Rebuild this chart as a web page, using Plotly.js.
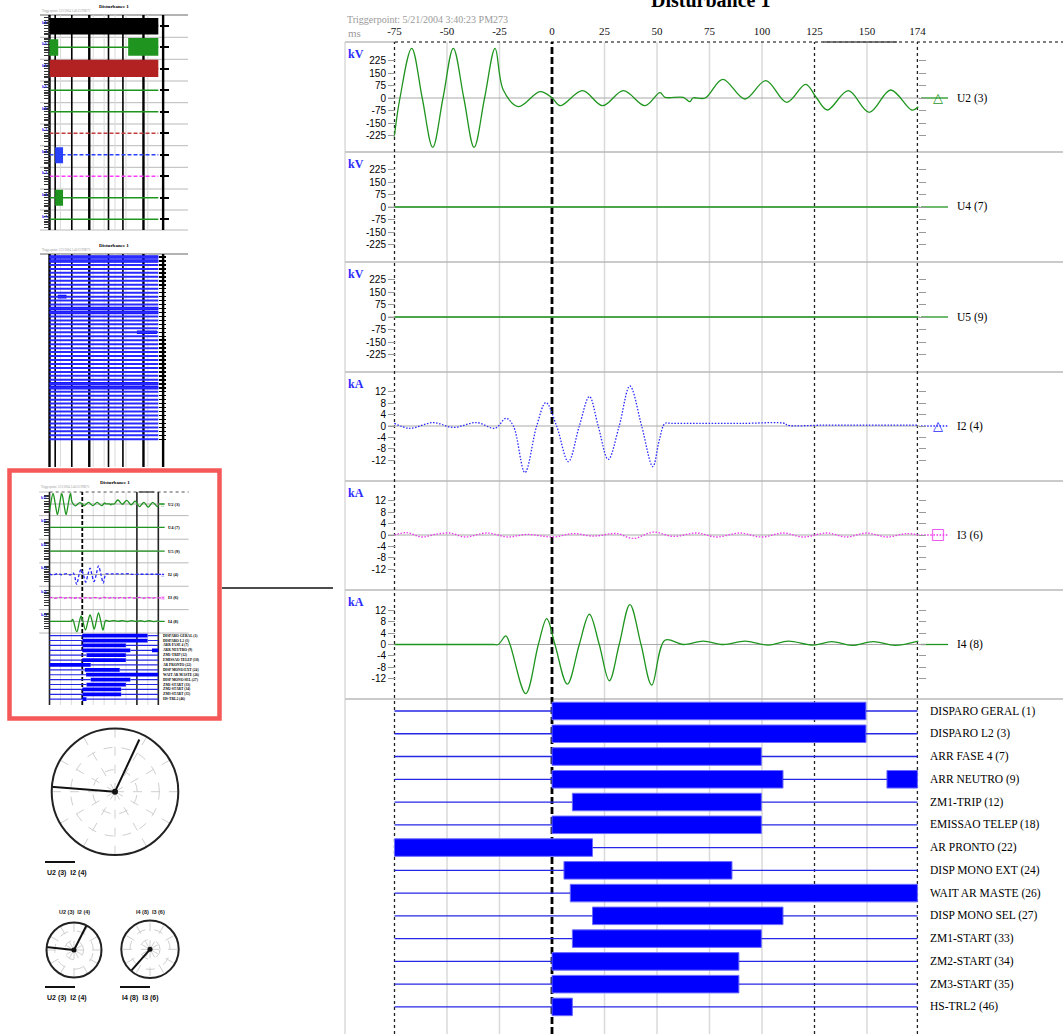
<!DOCTYPE html>
<html><head><meta charset="utf-8">
<script src="https://cdn.plot.ly/plotly-3.0.1.min.js"></script>
<style>html,body{margin:0;padding:0;background:#fff;overflow:hidden}#chart{width:1063px;height:1034px}</style>
</head><body><div id="chart"></div>
<script>
// ================= DATA =================
const tickTimes = [-75, -50, -25, 0, 25, 50, 75, 100, 125, 150, 174];
const gridTimes = [-50, -25, 25, 50, 75, 100, 150];
const cursorTimes = [-75, 125, 174];
const triggerTime = 0;
const recStart = -75, recEnd = 174;
const voltTicks = [-225, -150, -75, 0, 75, 150, 225];
const currTicks = [-12, -8, -4, 0, 4, 8, 12];

// U2 (kV)
const u2T = [-75.1,-72.4,-66.8,-61.8,-56.8,-51.9,-47.0,-42.0,-37.1,-32.1,-27.1,-23.2,-16.0,-5.7,0.1,3.8,14.6,24.1,34.0,44.3,51.4,53.8,62.5,65.7,67.1,72.9,81.3,91.9,101.8,111.8,120.8,126.0,131.1,141.1,151.1,161.3,171.3,174.4];
const u2V = [-232,0,298,0,-296,0,298,0,-296,0,298,48,-52,38,0,-46,44,-46,44,-46,32,4,4,-22,0,0,112,-6,104,-26,82,0,-72,44,-86,48,-72,-52];
// U4, U5 (kV)
const u4T = [-75.1, 174.4], u4V = [0, 0];
const u5T = [-75.1, 174.4], u5V = [0, 0];
// I2 (kA)
const i2T = [-75.1,-67.6,-56.5,-47.0,-35.9,-27.1,-21.9,-18.4,-12.9,-7.3,-2.9,2.2,7.8,13.0,17.8,22.0,26.8,32.0,37.1,42.7,48.0,51.1,53.8,57.0,70.0,90.0,111.0,112.0,130.0,150.0,174.3];
const i2V = [0.9,-0.8,1.2,-0.5,1.2,-0.8,2.7,0,-16.3,0,8.2,0,-12.5,0,10.3,0,-11.7,0,14.0,0,-14.2,-4.9,0.9,0.9,0.9,0.9,0.9,0.3,0.3,0.3,0.3];
// I3 (kA)
const i3T = [-75.1,-69.2,-62.0,-55.7,-48.6,-41.4,-31.1,-20.8,-12.0,0.6,10.2,19.7,30.8,38.7,48.3,57.8,68.9,78.4,89.5,99.8,110.2,119.7,130.8,140.3,149.8,159.4,168.9,174.4];
const i3V = [0,0.8,-0.7,0.2,0.7,-0.7,0.7,-0.7,0.2,-0.7,0.5,-0.4,0.5,-1.2,1.0,-0.5,0.7,-0.7,0.7,-0.7,0.7,-0.7,0.7,-0.7,0.7,-0.7,0.5,0];
// I4 (kA)
const i4T = [-75.1,-50.0,-28.0,-25.6,-22.0,-20.0,-12.5,-6.5,-2.5,1.4,7.3,13.0,17.8,22.5,27.3,32.0,37.1,42.4,47.5,53.8,62.5,72.0,81.6,91.9,103.0,112.5,124.4,133.2,142.7,153.0,163.3,174.4];
const i4V = [0,0,0,0,3.0,0,-17.2,0,9.1,0,-13.9,0,10.6,0,-12.7,0,14.0,0,-14.2,1.5,0,1.2,0,1.2,-0.2,1.2,-0.2,1.0,-0.3,1.0,-0.3,1.2];

const analogNames = ['U2 (3)', 'U4 (7)', 'U5 (9)', 'I2 (4)', 'I3 (6)', 'I4 (8)'];
const analogUnits = ['kV', 'kV', 'kV', 'kA', 'kA', 'kA'];

// digital channels
const digLabels = ['DISPARO GERAL (1)','DISPARO L2 (3)','ARR FASE 4 (7)','ARR NEUTRO (9)','ZM1-TRIP (12)','EMISSAO TELEP (18)','AR PRONTO (22)','DISP MONO EXT (24)','WAIT AR MASTE (26)','DISP MONO SEL (27)','ZM1-START (33)','ZM2-START (34)','ZM3-START (35)','HS-TRL2 (46)'];
const digOnRow  = [0, 1, 2, 3, 3, 4, 5, 6, 7, 8, 9, 10, 11, 12, 13];
const digOnFrom = [0, 0, 0, 0, 159.5, 9.7, 0, -75, 5.7, 8.7, 19.3, 9.7, 0, 0, 0];
const digOnTo   = [149.5, 149.5, 99.7, 110, 174, 99.7, 99.7, 19.3, 85.7, 174, 110, 99.7, 89, 89, 9.7];

// phasor diagrams (angle deg, magnitude relative)
const phasorAAng = [65, 175.5], phasorAMag = [0.91, 1.03];
const phasorBAng = [63, 174],   phasorBMag = [1.0, 1.05];
const phasorCAng = [228.7],     phasorCMag = [1.15];
const phasorLegend = ['U2 (3)  I2 (4)', 'U2 (3)  I2 (4)', 'I4 (8)  I3 (6)'];

// overview thumbnail A (analog page): envelopes in half-panel units
const thumbAColors = ['#000000','#1f951f','#b22222','#1f951f','#1f951f','#c43c3c','#2a40ff','#ff3cff','#1f951f','#1f951f'];
const thumbADash   = ['solid','solid','solid','solid','solid','dash','dash','dash','solid','solid'];
const thumbAUnits  = ['kV','kV','kV','kV','kV','kA','kA','kA','kA','kA'];
const thumbABandRow  = [0, 1, 1, 2, 6, 8];
const thumbABandFrom = [-75, -76, 105, -75, -62, -62];
const thumbABandTo   = [174, -55, 174, 174, -44, -44];
const thumbABandHi   = [0.72, 0.75, 0.85, 0.83, 0.7, 0.75];
const thumbABandLo   = [-0.82, -0.8, -0.8, -0.77, -0.8, -0.75];
// overview cursors (ms)
const thumbCursorTimes = [-75, -62, -24, 16, 60, 93, 140, 185];
const thumbCursorBold  = [true, false, false, true, false, false, true, true];
// overview thumbnail B (binary page)
const thumbBRows = 47;
const thumbBBarRow  = [0, 1, 13, 14, 19, 10, 32, 33];
const thumbBBarFrom = [-75, -75, -75, -75, 125, -56, -75, -75];
const thumbBBarTo   = [174, 174, 174, 174, 171, -36, 174, 174];

// ================= LAYOUT HELPERS =================
const W = 1063, H = 1034;
const fx = p => p / W, fy = p => 1 - p / H;
const xRange = [(345 - 552) / 2.1, (1063 - 552) / 2.1];
const panelEdges = [42, 152, 262, 372, 481, 590, 699];
const analogRange = [[-324, 336], [-330, 330], [-330, 330], [-19.25, 18.9], [-19.25, 18.9], [-19.1, 19.1]];
const GREEN = '#1f951f';
const analogStyle = [
  {color: GREEN, dash: 'solid', mark: '△'},
  {color: GREEN, dash: 'solid', mark: ''},
  {color: GREEN, dash: 'solid', mark: ''},
  {color: '#2828ff', dash: 'dot', mark: '△'},
  {color: '#ee33ee', dash: 'dot', mark: '□'},
  {color: GREEN, dash: 'solid', mark: ''}
];
const analog = [
  {t: u2T, v: u2V, ticks: voltTicks}, {t: u4T, v: u4V, ticks: voltTicks}, {t: u5T, v: u5V, ticks: voltTicks},
  {t: i2T, v: i2V, ticks: currTicks}, {t: i3T, v: i3V, ticks: currTicks}, {t: i4T, v: i4V, ticks: currTicks}
];

const data = [], shapes = [], ann = [];
const layout = {
  width: W, height: H, margin: {l: 0, r: 0, t: 0, b: 0, pad: 0},
  paper_bgcolor: '#ffffff', plot_bgcolor: 'rgba(0,0,0,0)', showlegend: false, hovermode: false,
  barmode: 'overlay', font: {family: 'Liberation Serif', size: 11, color: '#000'},
  shapes: shapes, annotations: ann
};
const yn = n => n === 1 ? 'y' : 'y' + n;
const yk = n => n === 1 ? 'yaxis' : 'yaxis' + n;
function seg(x0, y0, x1, y1, xref, yref, color, width, dash, layer) {
  shapes.push({type: 'line', x0: x0, y0: y0, x1: x1, y1: y1, xref: xref, yref: yref,
    line: {color: color, width: width, dash: dash || 'solid'}, layer: layer || 'below'});
}
function txt(x, y, t, o) {
  const a = {x: x, y: y, text: t, xref: 'paper', yref: 'paper', showarrow: false, xanchor: 'left', yanchor: 'middle',
    font: {family: 'Liberation Serif', size: 11, color: '#000'}};
  Object.assign(a, o || {});
  ann.push(a);
}

// off segments of digital channels (complement of on intervals)
const digOffX = [], digOffY = [];
digLabels.forEach((lab, r) => {
  const iv = [];
  digOnRow.forEach((row, k) => { if (row === r) iv.push([digOnFrom[k], digOnTo[k]]); });
  iv.sort((a, b) => a[0] - b[0]);
  let cur = recStart;
  iv.forEach(p => { if (p[0] > cur) { digOffX.push(cur, p[0], null); digOffY.push(r, r, null); } cur = Math.max(cur, p[1]); });
  if (cur < recEnd) { digOffX.push(cur, recEnd, null); digOffY.push(r, r, null); }
});
const digDur = digOnTo.map((v, k) => v - digOnFrom[k]);

// ================= ONE DISTURBANCE VIEW =================
function view(g) {
  const X = g.X, Y = g.Y, full = g.full, xa = g.xa;
  layout[xa === 'x' ? 'xaxis' : 'xaxis2'] = {
    domain: [fx(X(345)), fx(X(1063))], range: xRange, anchor: 'free', position: fy(Y(42)), side: 'top',
    tickvals: tickTimes, ticktext: tickTimes.map(v => String(v)), ticks: full ? 'outside' : '', ticklen: 3,
    tickcolor: 'rgba(0,0,0,0)', showticklabels: full, showgrid: false, zeroline: false, showline: false,
    fixedrange: true, tickfont: {family: 'Liberation Serif', size: 11, color: '#111'}
  };
  // grid + cursors
  gridTimes.forEach(t => seg(t, fy(Y(1034)), t, fy(Y(42)), xa, 'paper', '#dadada', full ? 1.5 : 1));
  panelEdges.slice(1).forEach(p => seg(fx(X(345)), fy(Y(p)), fx(X(1063)), fy(Y(p)), 'paper', 'paper', '#b9b9b9', full ? 1.5 : 1));
  seg(fx(X(345)), fy(Y(42)), fx(X(395)), fy(Y(42)), 'paper', 'paper', '#bdbdbd', full ? 1.5 : 1);
  seg(fx(X(395)), fy(Y(42)), fx(X(1063)), fy(Y(42)), 'paper', 'paper', '#555', full ? 1.3 : 1.2, 'dot');
  seg(fx(X(823)), fy(Y(42)), fx(X(897)), fy(Y(42)), 'paper', 'paper', '#555', 1.5);
  if (full) seg(fx(345), fy(42), fx(345), fy(1034), 'paper', 'paper', '#c8c8c8', 1);
  cursorTimes.forEach(t => seg(t, fy(Y(1034)), t, fy(Y(42)), xa, 'paper', '#222', full ? 1.3 : 1.6, full ? 'dot' : 'solid'));
  seg(triggerTime, fy(Y(1034)), triggerTime, fy(Y(42)), xa, 'paper', '#000', full ? 2.8 : 1.8, full ? '7px,3px' : '4px,2px');

  analog.forEach((c, i) => {
    const n = g.yBase + i, st = analogStyle[i];
    const top = panelEdges[i], bot = panelEdges[i + 1];
    layout[yk(n)] = {
      domain: [fy(Y(bot)), fy(Y(top))], range: analogRange[i], anchor: 'free', position: fx(X(395)), side: 'left',
      tickvals: c.ticks, ticktext: c.ticks.map(v => String(v)), ticks: 'outside', ticklen: full ? 7 : 6,
      tickcolor: full ? '#9a9a9a' : '#333', tickwidth: full ? 1 : 1.3, showticklabels: full,
      showgrid: false, zeroline: false, showline: false, fixedrange: true,
      tickfont: {family: 'Liberation Sans', size: 10, color: '#000'}
    };
    data.push({type: 'scatter', mode: 'lines', x: c.t, y: c.v, xaxis: xa, yaxis: yn(n), hoverinfo: 'skip',
      line: {color: st.color, width: 1.3, shape: 'spline', smoothing: 1,
        dash: st.dash === 'dot' ? (full ? '1.5px,1.6px' : '3px,2px') : 'solid'}});
    seg(fx(X(388)), 0, fx(X(920)), 0, 'paper', yn(n), '#a9a9a9', full ? 1.2 : 1);
    seg(fx(X(921)), 0, fx(X(948)), 0, 'paper', yn(n), st.color, 1.3,
      st.dash === 'dot' ? (full ? '1.5px,1.6px' : '2px,1px') : 'solid');
    txt(fx(X(346)), fy(Y(top + 3)), analogUnits[i], {yanchor: 'top',
      font: {family: 'Liberation Serif', size: full ? 12 : 4.5, color: '#2a2aff', weight: 'bold'}});
    if (st.mark) txt(fx(X(938)), 0, st.mark, {yref: yn(n), xanchor: 'center', yshift: full ? 1 : 0,
      font: {family: 'DejaVu Sans', size: full ? (st.mark === '□' ? 15 : 13) : 4, color: st.color}});
    txt(fx(X(955)), 0, analogNames[i], {yref: yn(n),
      font: {family: 'Liberation Serif', size: full ? 11.5 : 4.5, color: '#000', weight: full ? 'normal' : 'bold'}});
    if (full) {
      const m = 8 + i;
      layout[yk(m)] = {overlaying: yn(n), range: analogRange[i], anchor: 'free', position: fx(918), side: 'right',
        tickvals: c.ticks, ticks: 'outside', ticklen: 7, tickcolor: '#9a9a9a', showticklabels: false,
        showgrid: false, zeroline: false, showline: false, fixedrange: true};
      data.push({type: 'scatter', mode: 'none', x: [0], y: [0], xaxis: xa, yaxis: yn(m), hoverinfo: 'skip'});
    }
  });

  const dn = g.yBase + 6;
  layout[yk(dn)] = {domain: [fy(Y(1034)), fy(Y(699))], range: [14.19, -0.527], anchor: 'free', position: fx(X(345)),
    showticklabels: false, ticks: '', showgrid: false, zeroline: false, showline: false, fixedrange: true};
  data.push({type: 'scatter', mode: 'lines', x: digOffX, y: digOffY, xaxis: xa, yaxis: yn(dn), hoverinfo: 'skip',
    line: {color: '#2626e6', width: full ? 1.3 : 1.2}});
  data.push({type: 'bar', orientation: 'h', y: digOnRow, x: digDur, base: digOnFrom, width: 0.77,
    xaxis: xa, yaxis: yn(dn), hoverinfo: 'skip',
    marker: {color: '#0000ff', line: {color: '#6b6bff', width: full ? 1 : 0}}});
  digLabels.forEach((lab, r) => txt(fx(X(928)), r, lab, {yref: yn(dn),
    font: {family: 'Liberation Serif', size: full ? 11.5 : 3.6, color: '#000', weight: full ? 'normal' : 'bold'}}));

  // header texts
  txt(fx(X(710)), fy(Y(0)), 'Disturbance 1', {xanchor: 'center', yanchor: 'middle',
    font: {family: 'Liberation Serif', size: full ? 20 : 5, color: '#000', weight: 'bold'}});
  txt(fx(X(345)), fy(Y(19)), 'Triggerpoint: 5/21/2004 3:40:23 PM273', {
    font: {family: 'Liberation Serif', size: full ? 10 : 3, color: '#9a9a9a'}});
  if (full) txt(fx(346), fy(33), 'ms', {font: {family: 'Liberation Serif', size: 11, color: '#9a9a9a'}});
}

// main chart
view({full: true, xa: 'x', yBase: 1, X: p => p, Y: p => p});
// miniature of the same chart in the overview column
const TX = p => 39.2 + (p - 345) * 0.2081, TY = p => 492 + (p - 42) * 0.2147;
view({full: false, xa: 'x2', yBase: 14, X: TX, Y: TY});

// ================= OVERVIEW THUMBNAIL A =================
layout.yaxis21 = {domain: [fy(230), fy(15)], range: [10, 0], anchor: 'free', position: fx(49.6),
  tickvals: [].concat(...thumbAColors.map((c, r) => [-3, -2, -1, 0, 1, 2, 3].map(k => r + 0.5 + k * 0.13))),
  ticks: 'outside', ticklen: 6, tickcolor: '#333', tickwidth: 1.3, showticklabels: false,
  showgrid: false, zeroline: false, showline: false, fixedrange: true};
layout.yaxis23 = {overlaying: 'y21', range: [10, 0], anchor: 'free', position: fx(158.5), side: 'right',
  tickvals: thumbAColors.map((c, r) => r + 0.5), ticks: 'outside', ticklen: 9, tickcolor: '#000', tickwidth: 2,
  showticklabels: false, showgrid: false, zeroline: false, showline: false, fixedrange: true};
data.push({type: 'scatter', mode: 'none', x: [0], y: [0], xaxis: 'x2', yaxis: 'y23', hoverinfo: 'skip'});
[15, 37.3, 59.3, 81, 102.7, 124, 145.7, 167.3, 189, 210, 230].forEach((p, k) =>
  seg(fx(40), fy(p), fx(188), fy(p), 'paper', 'paper', k === 0 ? '#666' : '#b9b9b9', 1));
gridTimes.forEach(t => seg(t, fy(230), t, fy(15), 'x2', 'paper', '#dadada', 1));
thumbCursorTimes.forEach((t, k) => seg(t, fy(230), t, fy(15), 'x2', 'paper', '#000', thumbCursorBold[k] ? 2.4 : 1.6));
thumbABandRow.forEach((r, k) => {
  const a = thumbABandFrom[k], b = thumbABandTo[k];
  const hi = r + 0.5 - 0.5 * thumbABandHi[k], lo = r + 0.5 - 0.5 * thumbABandLo[k];
  data.push({type: 'scatter', mode: 'lines', x: [a, b, b, a, a], y: [hi, hi, lo, lo, hi], fill: 'toself',
    fillcolor: thumbAColors[r], line: {width: 0, color: thumbAColors[r]}, xaxis: 'x2', yaxis: 'y21', hoverinfo: 'skip'});
});
thumbAColors.forEach((c, r) => {
  data.push({type: 'scatter', mode: 'lines', x: [recStart, recEnd], y: [r + 0.5, r + 0.5], xaxis: 'x2', yaxis: 'y21',
    hoverinfo: 'skip', line: {color: c, width: 1.6, dash: thumbADash[r] === 'dash' ? '4px,2px' : 'solid'}});
  txt(fx(40), fy(15 + r * 21.5 + 3), thumbAUnits[r], {yanchor: 'top', font: {family: 'Liberation Serif', size: 4.5, color: '#2a2aff', weight: 'bold'}});
});
txt(fx(114), fy(6), 'Disturbance 1', {xanchor: 'center', font: {family: 'Liberation Serif', size: 5, color: '#000', weight: 'bold'}});
txt(fx(40), fy(11), 'Triggerpoint: 5/21/2004 3:40:23 PM273', {font: {family: 'Liberation Serif', size: 3, color: '#9a9a9a'}});

// ================= OVERVIEW THUMBNAIL B =================
const rowsB = Array.from({length: thumbBRows}, (v, r) => r);
layout.yaxis22 = {domain: [fy(467), fy(254)], range: [53.0, -0.76], anchor: 'free', position: fx(49.6),
  showticklabels: false, ticks: '', showgrid: false, zeroline: false, showline: false, fixedrange: true};
layout.yaxis24 = {overlaying: 'y22', range: [53.0, -0.76], anchor: 'free', position: fx(158), side: 'right',
  tickvals: rowsB, ticks: 'outside', ticklen: 7, tickcolor: '#000', tickwidth: 1.5,
  showticklabels: false, showgrid: false, zeroline: false, showline: false, fixedrange: true};
data.push({type: 'scatter', mode: 'none', x: [0], y: [0], xaxis: 'x2', yaxis: 'y24', hoverinfo: 'skip'});
seg(fx(40), fy(254), fx(188), fy(254), 'paper', 'paper', '#666', 1);
gridTimes.forEach(t => seg(t, fy(467), t, fy(254), 'x2', 'paper', '#dadada', 1));
thumbCursorTimes.forEach((t, k) => seg(t, fy(467), t, fy(254), 'x2', 'paper', '#000', thumbCursorBold[k] ? 2.4 : 1.6));
data.push({type: 'scatter', mode: 'lines', xaxis: 'x2', yaxis: 'y22', hoverinfo: 'skip',
  x: [].concat(...rowsB.map(r => [recStart, recEnd, null])), y: [].concat(...rowsB.map(r => [r, r, null])),
  line: {color: '#2a2aff', width: 2}});
data.push({type: 'bar', orientation: 'h', y: thumbBBarRow, x: thumbBBarTo.map((v, k) => v - thumbBBarFrom[k]),
  base: thumbBBarFrom, width: 0.9, xaxis: 'x2', yaxis: 'y22', hoverinfo: 'skip', marker: {color: '#1010ff'}});
txt(fx(114), fy(245), 'Disturbance 1', {xanchor: 'center', font: {family: 'Liberation Serif', size: 5, color: '#000', weight: 'bold'}});
txt(fx(40), fy(250), 'Triggerpoint: 5/21/2004 3:40:23 PM273', {font: {family: 'Liberation Serif', size: 3, color: '#9a9a9a'}});

// ================= PHASORS =================
const polarBase = {
  bgcolor: 'rgba(0,0,0,0)',
  angularaxis: {showline: true, linecolor: '#222', linewidth: 2, ticks: '', showticklabels: false,
    showgrid: true, gridcolor: '#cfcfcf', griddash: 'dash', dtick: 30},
  radialaxis: {range: [0, 1], showline: false, ticks: '', showticklabels: false, showgrid: true,
    gridcolor: '#cfcfcf', griddash: 'dash', tickvals: [0.35, 0.7]}
};
const phasors = [
  {id: 'polar', box: [51.7, 178.3, 728.4, 855], ang: phasorAAng, mag: phasorAMag, lab: [45, 862]},
  {id: 'polar2', box: [46.5, 101.5, 922.5, 977.5], ang: phasorBAng, mag: phasorBMag, lab: [45, 987]},
  {id: 'polar3', box: [121.3, 178.7, 920.6, 978], ang: phasorCAng, mag: phasorCMag, lab: [120, 987]}
];
phasors.forEach((p, k) => {
  layout[p.id] = JSON.parse(JSON.stringify(polarBase));
  layout[p.id].domain = {x: [fx(p.box[0]), fx(p.box[1])], y: [fy(p.box[3]), fy(p.box[2])]};
  p.ang.forEach((a, j) => data.push({type: 'scatterpolar', subplot: p.id, mode: 'lines', r: [0, p.mag[j]], theta: [0, a],
    line: {color: '#111', width: 2}, cliponaxis: false, hoverinfo: 'skip'}));
  data.push({type: 'scatterpolar', subplot: p.id, mode: 'markers', r: [0], theta: [0],
    marker: {color: '#111', size: k === 0 ? 6 : 5}, hoverinfo: 'skip'});
  seg(fx(p.lab[0]), fy(p.lab[1]), fx(p.lab[0] + 30), fy(p.lab[1]), 'paper', 'paper', '#111', 2);
  txt(fx(p.lab[0]), fy(p.lab[1] + 11), phasorLegend[k], {font: {family: 'Liberation Sans', size: 7, color: '#111', weight: 'bold'}});
});
txt(fx(74), fy(912), 'U2 (3)  I2 (4)', {xanchor: 'center', font: {family: 'Liberation Sans', size: 5.5, color: '#222', weight: 'bold'}});
txt(fx(150), fy(912), 'I4 (8)  I3 (6)', {xanchor: 'center', font: {family: 'Liberation Sans', size: 5.5, color: '#222', weight: 'bold'}});

// ================= HIGHLIGHT BOX + CONNECTOR =================
shapes.push({type: 'rect', xref: 'paper', yref: 'paper', x0: fx(9.5), x1: fx(219.5), y0: fy(718.5), y1: fy(470.5),
  line: {color: '#f55858', width: 4.5}, fillcolor: 'rgba(0,0,0,0)', layer: 'above'});
seg(fx(222), fy(588), fx(333), fy(588), 'paper', 'paper', '#111', 1.6, 'solid', 'above');

Plotly.newPlot('chart', data, layout, {staticPlot: true, displayModeBar: false});
</script></body></html>
